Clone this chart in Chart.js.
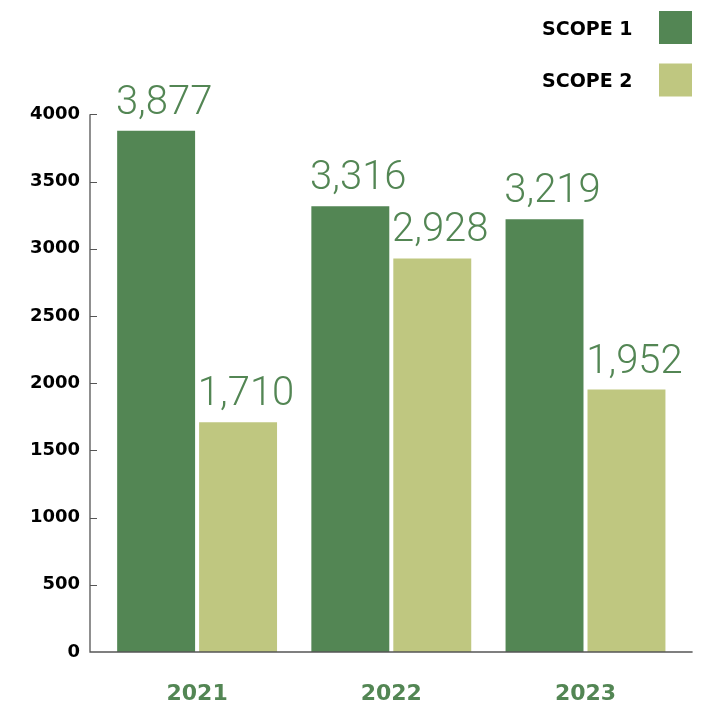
<!DOCTYPE html>
<html>
<head>
<meta charset="utf-8">
<script src="https://cdn.jsdelivr.net/npm/chart.js@4"></script>
<style>
  body { margin: 0; background: #fff; }
  #wrap { width: 711px; height: 704px; position: relative; }
</style>
</head>
<body>
<div id="wrap"><canvas id="emissionsChart"></canvas></div>
<script>
// emissions by year
var years = ['2021', '2022', '2023'];
var scope1 = [3877, 3316, 3219];
var scope2 = [1710, 2928, 1952];
var seriesNames = ['SCOPE 1', 'SCOPE 2'];
var yTicks = [0, 500, 1000, 1500, 2000, 2500, 3000, 3500, 4000];

var darkGreen = 'rgb(83,134,84)';
var lightGreen = 'rgb(191,199,128)';
var boldFont = '"DejaVu Sans", sans-serif';

// axis lines + inward tick marks on the y axis
var axisLines = {
  id: 'axisLines',
  afterDraw: function(chart) {
    var c = chart.ctx, a = chart.chartArea, y = chart.scales.y;
    var x0 = a.left - 10;
    c.save();
    c.strokeStyle = '#555';
    c.lineWidth = 1.3;
    c.beginPath();
    c.moveTo(x0, y.getPixelForValue(4000));
    c.lineTo(x0, a.bottom);
    c.lineTo(a.right + 10, a.bottom);
    c.stroke();
    c.lineWidth = 1;
    yTicks.forEach(function(t) {
      if (t === 0) return;
      var py = Math.round(y.getPixelForValue(t)) + 0.5;
      c.beginPath();
      c.moveTo(x0, py);
      c.lineTo(x0 + 7, py);
      c.stroke();
    });
    c.restore();
  }
};

// value labels above bars
var valueLabels = {
  id: 'valueLabels',
  afterDatasetsDraw: function(chart) {
    var c = chart.ctx;
    c.save();
    c.font = '300 40px Roboto, "Liberation Sans", sans-serif';
    c.fillStyle = darkGreen;
    c.textAlign = 'center';
    c.textBaseline = 'alphabetic';
    chart.data.datasets.forEach(function(ds, i) {
      chart.getDatasetMeta(i).data.forEach(function(bar, j) {
        c.fillText(ds.data[j].toLocaleString('en-US'), bar.x + 8, bar.y - 17);
      });
    });
    c.restore();
  }
};

// legend in the top right corner: name then colour box
var cornerLegend = {
  id: 'cornerLegend',
  afterDraw: function(chart) {
    var c = chart.ctx;
    var cols = [darkGreen, lightGreen];
    c.save();
    c.font = 'bold 19px ' + boldFont;
    c.textAlign = 'left';
    c.textBaseline = 'alphabetic';
    seriesNames.forEach(function(name, i) {
      var top = 11 + i * 52.5;
      c.fillStyle = '#000';
      c.fillText(name, 542, top + 23.5);
      c.fillStyle = cols[i];
      c.fillRect(659, top, 33, 33);
    });
    c.restore();
  }
};

var ctx = document.getElementById('emissionsChart').getContext('2d');
var emissionsChart = new Chart(ctx, {
  type: 'bar',
  data: {
    labels: years,
    datasets: [{
      label: seriesNames[0],
      data: scope1,
      backgroundColor: darkGreen
    }, {
      label: seriesNames[1],
      data: scope2,
      backgroundColor: lightGreen
    }]
  },
  options: {
    responsive: true,
    maintainAspectRatio: false,
    animation: false,
    layout: {
      padding: { top: 114.3, right: 28.4, left: 30, bottom: 0 }
    },
    datasets: {
      bar: { categoryPercentage: 0.844, barPercentage: 0.951 }
    },
    plugins: {
      legend: { display: false },
      tooltip: { enabled: false }
    },
    scales: {
      x: {
        grid: { display: false, drawTicks: false },
        border: { display: false },
        ticks: {
          padding: 29,
          color: darkGreen,
          font: { family: boldFont, size: 22, weight: 'bold' }
        },
        afterFit: function(s) { s.height = 52; }
      },
      y: {
        min: 0,
        max: 4000,
        grid: { display: false, drawTicks: false },
        border: { display: false },
        afterBuildTicks: function(s) {
          s.ticks = yTicks.map(function(v) { return { value: v }; });
        },
        ticks: {
          padding: 20,
          color: '#000',
          font: { family: boldFont, size: 18, weight: 'bold' },
          callback: function(v) { return String(v); }
        },
        afterFit: function(s) { s.width = 70; }
      }
    }
  },
  plugins: [axisLines, valueLabels, cornerLegend]
});
</script>
</body>
</html>
